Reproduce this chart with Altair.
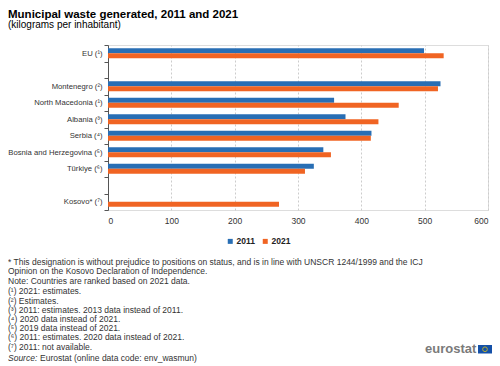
import altair as alt
import pandas as pd

categories = ["EU (¹)", " ", "Montenegro (²)", "North Macedonia (¹)", "Albania (³)",
              "Serbia (⁴)", "Bosnia and Herzegovina (⁵)", "Türkiye (⁶)", "  ", "Kosovo* (⁷)"]
v2011 = [499, None, 525, 357, 375, 416, 340, 325, None, None]
v2021 = [530, None, 521, 459, 427, 415, 352, 311, None, 270]
years = ["2011", "2021"]
colors = ["#286EB4", "#F06423"]

title = "Municipal waste generated, 2011 and 2021"
subtitle = "(kilograms per inhabitant)"
notes_a = ["* This designation is without prejudice to positions on status, and is in line with UNSCR 1244/1999 and the ICJ",
           "Opinion on the Kosovo Declaration of Independence.",
           "Note: Countries are ranked based on 2021 data."]
notes_b = ["(¹) 2021: estimates.",
           "(²) Estimates.",
           "(³) 2011: estimates. 2013 data instead of 2011.",
           "(⁴) 2020 data instead of 2021.",
           "(⁵) 2019 data instead of 2021.",
           "(⁶) 2011: estimates. 2020 data instead of 2021.",
           "(⁷) 2011: not available."]
source_label = "Source:"
source_text = "Eurostat (online data code: env_wasmun)"

rows = []
for c, a, b in zip(categories, v2011, v2021):
    if a is not None:
        rows.append({"cat": c, "year": "2011", "value": a})
    if b is not None:
        rows.append({"cat": c, "year": "2021", "value": b})
df = pd.DataFrame(rows)

FONT = "Liberation Sans"

bars = alt.Chart(df).mark_bar().encode(
    x=alt.X("value:Q", scale=alt.Scale(domain=[0, 600], nice=False),
            axis=alt.Axis(values=[0, 100, 200, 300, 400, 500, 600], title=None,
                          domain=False, ticks=False, grid=True, gridDash=[2, 2],
                          gridColor="#cccccc", labelFontSize=8.5, labelColor="#333333",
                          labelPadding=6, labelFont=FONT)),
    y=alt.Y("cat:N", sort=categories,
            scale=alt.Scale(domain=categories, paddingInner=0, paddingOuter=0),
            axis=alt.Axis(title=None, tickBand="extent", ticks=True, tickSize=4,
                          tickColor="#555555", domainColor="#555555", grid=False,
                          labelFontSize=7.7, labelColor="#333333", labelPadding=2,
                          labelFont=FONT)),
    yOffset=alt.YOffset("year:N", sort=years,
                        scale=alt.Scale(domain=years, paddingInner=0, paddingOuter=0.65)),
    color=alt.Color("year:N", scale=alt.Scale(domain=years, range=colors),
                    legend=alt.Legend(title=None, orient="none", direction="horizontal",
                                      legendX=118, legendY=192, symbolType="square",
                                      symbolSize=25, symbolStrokeWidth=0,
                                      labelFontSize=8.5, labelFontWeight="bold",
                                      labelFont=FONT, labelColor="#222222",
                                      labelOffset=2, columnPadding=6, padding=0)),
)

title_t = alt.Chart(pd.DataFrame({"t": [title]})).mark_text(
    align="left", baseline="alphabetic", font=FONT, fontSize=11.5, fontWeight="bold",
    color="#000000").encode(text="t:N", x=alt.value(-100), y=alt.value(-27.5))
sub_t = alt.Chart(pd.DataFrame({"t": [subtitle]})).mark_text(
    align="left", baseline="alphabetic", font=FONT, fontSize=10,
    color="#000000").encode(text="t:N", x=alt.value(-100), y=alt.value(-17.5))

na = alt.Chart(pd.DataFrame({"t": [notes_a]})).mark_text(
    align="left", baseline="middle", font=FONT, fontSize=8.5, color="#333333",
    lineHeight=9.2).encode(text="t", x=alt.value(-100), y=alt.value(217.3))
nb = alt.Chart(pd.DataFrame({"t": [notes_b]})).mark_text(
    align="left", baseline="middle", font=FONT, fontSize=8.5, color="#333333",
    lineHeight=9.23).encode(text="t", x=alt.value(-100), y=alt.value(246.3))
s1 = alt.Chart(pd.DataFrame({"t": [source_label]})).mark_text(
    align="left", baseline="middle", font=FONT, fontSize=8.5, fontStyle="italic",
    color="#333333").encode(text="t:N", x=alt.value(-100), y=alt.value(313.3))
s2 = alt.Chart(pd.DataFrame({"t": [source_text]})).mark_text(
    align="left", baseline="middle", font=FONT, fontSize=8.5,
    color="#333333").encode(text="t:N", x=alt.value(-68), y=alt.value(313.3))

logo_t = alt.Chart(pd.DataFrame({"t": ["eurostat"]})).mark_text(
    align="left", baseline="alphabetic", font=FONT, fontSize=13, fontWeight="bold",
    color="#7a7a7a").encode(text="t:N", x=alt.value(317), y=alt.value(308.3))
flag = alt.Chart(pd.DataFrame({"t": ["flag"]})).mark_rect(color="#1450A8").encode(
    x=alt.value(370), x2=alt.value(384), y=alt.value(300), y2=alt.value(308.5))
stars = alt.Chart(pd.DataFrame({"t": ["stars"]})).mark_point(
    shape="circle", filled=False, stroke="#FFD700", strokeWidth=1, size=22).encode(
    x=alt.value(377), y=alt.value(304.25))

chart = alt.layer(bars, title_t, sub_t, na, nb, s1, s2, logo_t, flag, stars).properties(
    width=380, height=165,
    autosize=alt.AutoSizeParams(type="none"),
    padding={"left": 100, "top": 37, "right": 4, "bottom": 156},
).configure_view(stroke=None).configure(font=FONT)

chart.save("out.html", embed_options={"renderer": "svg", "actions": False})
